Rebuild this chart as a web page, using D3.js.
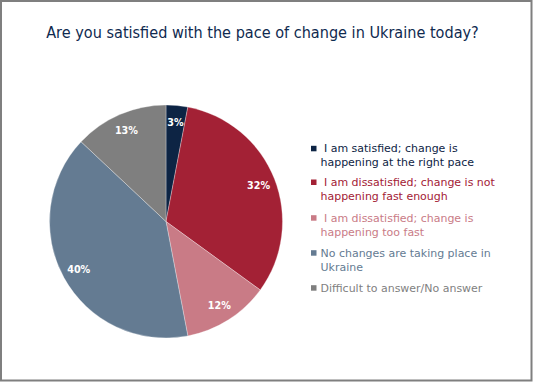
<!DOCTYPE html>
<html>
<head>
<meta charset="utf-8">
<script src="https://cdn.jsdelivr.net/npm/d3@7"></script>
<style>
  html, body { margin: 0; padding: 0; background: #fff; }
  svg { display: block; }
  text { white-space: pre; }
</style>
</head>
<body>
<svg id="chart" width="533" height="382"></svg>
<script>
const title = "Are you satisfied with the pace of change in Ukraine today?";
const categories = [
  " I am satisfied; change is happening at the right pace",
  " I am dissatisfied; change is not happening fast enough",
  " I am dissatisfied; change is happening too fast",
  "No changes are taking place in Ukraine",
  "Difficult to answer/No answer"
];
const legendLines = [
  [" I am satisfied; change is", "happening at the right pace"],
  [" I am dissatisfied; change is not", "happening fast enough"],
  [" I am dissatisfied; change is", "happening too fast"],
  ["No changes are taking place in", "Ukraine"],
  ["Difficult to answer/No answer"]
];
const values = [3, 32, 12, 40, 13];
const colors = ["#0d2444", "#a32135", "#c97b86", "#647b92", "#7f7f7f"];

const svg = d3.select("#chart");
const W = 533, H = 382;
const FONT = "'DejaVu Sans', Verdana, sans-serif";

// frame
svg.append("rect")
  .attr("x", 1).attr("y", 1).attr("width", W - 2.5).attr("height", H - 2.5)
  .attr("fill", "#fff").attr("stroke", "#7f7f7f").attr("stroke-width", 2);

// title (horizontally condensed to match a Tahoma-like width)
const tg = svg.append("g");
const t = tg.append("text")
  .attr("x", 0).attr("y", 0)
  .attr("text-anchor", "middle")
  .attr("font-family", FONT)
  .attr("font-size", 15)
  .attr("fill", "#0f2a50")
  .text(title);
const tl = t.node().getComputedTextLength();
tg.attr("transform", `translate(262.5,38) scale(${433 / tl},1)`);

// pie
const cx = 166, cy = 221.5, r = 116.5;
const pie = d3.pie().sort(null).value(d => d)(values);
const arc = d3.arc().innerRadius(0).outerRadius(r);
const labelArc = d3.arc().innerRadius(r * 0.855).outerRadius(r * 0.855);
const g = svg.append("g").attr("transform", `translate(${cx},${cy})`);
g.selectAll("path").data(pie).join("path")
  .attr("d", arc)
  .attr("fill", (d, i) => colors[i])
  .attr("stroke", "#ffffff")
  .attr("stroke-opacity", 0.5)
  .attr("stroke-width", 0.6);
g.selectAll("text.lbl").data(pie).join("text")
  .attr("class", "lbl")
  .attr("transform", d => { const c = labelArc.centroid(d); return `translate(${c[0]},${c[1]}) scale(0.92,1)`; })
  .attr("text-anchor", "middle")
  .attr("dy", "0.36em")
  .attr("font-family", FONT)
  .attr("font-size", 10.5)
  .attr("font-weight", "bold")
  .attr("fill", "#ffffff")
  .text(d => d.data + "%");

// legend
const legendTop = [152.3, 186, 221.7, 256.7, 291.7];
const lgSq = svg.append("g");
const lg = svg.append("g");
legendLines.forEach((lines, i) => {
  lgSq.append("rect")
    .attr("x", 311).attr("y", legendTop[i] - 6.5)
    .attr("width", 5.5).attr("height", 5.5)
    .attr("fill", colors[i]);
  const tx = lg.append("text")
    .attr("font-family", FONT)
    .attr("font-size", 11)
    .attr("fill", colors[i]);
  lines.forEach((ln, j) => {
    tx.append("tspan")
      .attr("x", 0)
      .attr("y", legendTop[i] + j * 14)
      .text(ln);
  });
});
const probe = lg.selectAll("tspan").filter(function() { return this.textContent === legendLines[4][0]; }).node();
const pw = probe.getComputedTextLength();
lg.attr("transform", `translate(320.5,0) scale(${162 / pw},1)`);
</script>
</body>
</html>
